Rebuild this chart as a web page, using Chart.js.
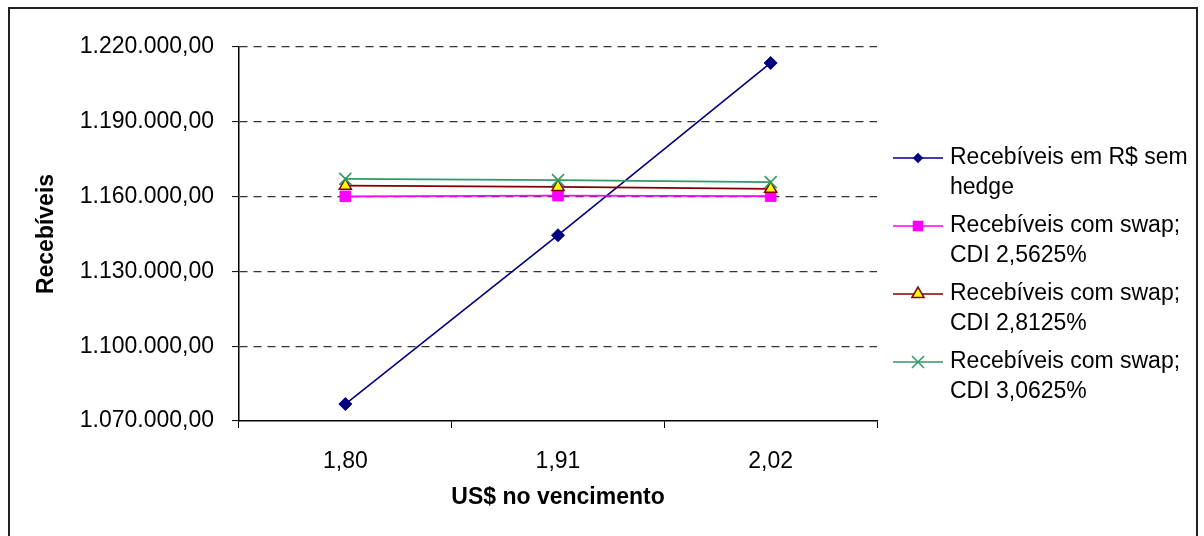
<!DOCTYPE html>
<html>
<head>
<meta charset="utf-8">
<title>Recebíveis x US$ no vencimento</title>
<script src="https://cdn.jsdelivr.net/npm/chart.js@4/dist/chart.umd.min.js"></script>
<style>
  html, body { margin: 0; padding: 0; background: #fff; }
  #wrap { position: relative; width: 1204px; height: 536px; }
</style>
</head>
<body>
<div id="wrap"><canvas id="c" width="1204" height="536"></canvas></div>
<script>
// Exchange rate at maturity (categories)
const categories = ['1,80', '1,91', '2,02'];

// Receivables (R$) for each scenario
const semHedge = [1076800, 1144500, 1213600];
const swapCdi25625 = [1160100, 1160400, 1160200];
const swapCdi28125 = [1164400, 1163900, 1163100];
const swapCdi30625 = [1167100, 1166600, 1165800];

const seriesNames = [
  ['Recebíveis em R$ sem', 'hedge'],
  ['Recebíveis com swap;', 'CDI 2,5625%'],
  ['Recebíveis com swap;', 'CDI 2,8125%'],
  ['Recebíveis com swap;', 'CDI 3,0625%']
];

// Value axis range
const yMin = 1070000;
const yMax = 1220000;
const yStep = 30000;

const FONT = '"Liberation Sans", Arial, sans-serif';

function formatBR(v) {
  const intPart = Math.round(v).toString().replace(/\B(?=(\d{3})+(?!\d))/g, '.');
  return intPart + ',00';
}

const styles = [
  { color: '#000080', fill: '#000080', point: 'rectRot', radius: 6.5 },
  { color: '#FF00FF', fill: '#FF00FF', point: 'rect', radius: 7.5 },
  { color: '#800000', fill: '#FFFF00', point: 'triangle', radius: 7 },
  { color: '#339966', fill: '#339966', point: 'crossRot', radius: 8.5 }
];

const seriesData = [semHedge, swapCdi25625, swapCdi28125, swapCdi30625];

const datasets = seriesData.map((d, i) => ({
  label: seriesNames[i].join(' '),
  data: d,
  borderColor: styles[i].color,
  backgroundColor: styles[i].fill,
  borderWidth: 1.6,
  pointStyle: styles[i].point,
  pointRadius: styles[i].radius,
  pointHoverRadius: styles[i].radius,
  pointBackgroundColor: styles[i].fill,
  pointBorderColor: styles[i].color,
  pointBorderWidth: i === 2 ? 1.5 : (i === 3 ? 1.6 : 1),
  tension: 0,
  fill: false,
  order: 3 - i
}));

// Draws one legend marker in the given style
function drawMarker(ctx, st, x, y) {
  ctx.save();
  ctx.fillStyle = st.fill;
  ctx.strokeStyle = st.color;
  ctx.lineWidth = 1.5;
  const r = st.radius;
  ctx.beginPath();
  if (st.point === 'rectRot') {
    const h = r * 0.8;
    ctx.moveTo(x, y - h); ctx.lineTo(x + h, y); ctx.lineTo(x, y + h); ctx.lineTo(x - h, y);
    ctx.closePath(); ctx.fill();
  } else if (st.point === 'rect') {
    const h = r * Math.SQRT1_2;
    ctx.rect(x - h, y - h, 2 * h, 2 * h); ctx.fill();
  } else if (st.point === 'triangle') {
    ctx.moveTo(x, y - r);
    ctx.lineTo(x + r * 0.866, y + r * 0.5);
    ctx.lineTo(x - r * 0.866, y + r * 0.5);
    ctx.closePath(); ctx.fill(); ctx.stroke();
  } else if (st.point === 'crossRot') {
    const h = r * Math.SQRT1_2;
    ctx.moveTo(x - h, y - h); ctx.lineTo(x + h, y + h);
    ctx.moveTo(x + h, y - h); ctx.lineTo(x - h, y + h);
    ctx.stroke();
  }
  ctx.restore();
}

// Legend on the right, two text lines per series, plus the outer frame
const sideLegend = {
  id: 'sideLegend',
  afterDraw(chart) {
    const ctx = chart.ctx;
    const left = chart.chartArea.right + 16;
    const top = 158;
    const entryGap = 68;
    const lineGap = 30;
    ctx.save();
    ctx.font = '23px ' + FONT;
    ctx.textBaseline = 'middle';
    ctx.textAlign = 'left';
    ctx.fillStyle = '#000';
    seriesNames.forEach((lines, i) => {
      const y = top + i * entryGap;
      const st = styles[i];
      ctx.strokeStyle = st.color;
      ctx.lineWidth = 1.6;
      ctx.beginPath();
      ctx.moveTo(left, y);
      ctx.lineTo(left + 50, y);
      ctx.stroke();
      drawMarker(ctx, st, left + 25, y);
      ctx.fillStyle = '#000';
      lines.forEach((t, k) => ctx.fillText(t, left + 57, y + k * lineGap));
    });
    ctx.strokeStyle = '#222';
    ctx.lineWidth = 2;
    ctx.strokeRect(9, 8, 1188, 540);
    ctx.restore();
  }
};

new Chart(document.getElementById('c'), {
  type: 'line',
  data: { labels: categories, datasets },
  options: {
    responsive: false,
    animation: false,
    events: [],
    layout: { padding: { left: 9, top: 47, right: 327, bottom: 0 } },
    plugins: {
      legend: { display: false },
      tooltip: { enabled: false }
    },
    scales: {
      x: {
        type: 'category',
        offset: true,
        grid: {
          offset: true,
          drawOnChartArea: false,
          drawTicks: true,
          tickLength: 7,
          tickColor: '#000',
          tickWidth: 1
        },
        border: { display: true, color: '#000', width: 1.5 },
        ticks: {
          color: '#000',
          font: { family: FONT, size: 23 },
          padding: 20,
          maxRotation: 0
        },
        title: {
          display: true,
          text: 'US$ no vencimento',
          color: '#000',
          font: { family: FONT, size: 23, weight: 'bold' },
          padding: { top: 0, bottom: 25 }
        },
        afterFit(scale) { scale.height = 536 - 421; }
      },
      y: {
        min: yMin,
        max: yMax,
        ticks: {
          stepSize: yStep,
          color: '#000',
          font: { family: FONT, size: 23 },
          padding: 18,
          callback: (v) => formatBR(v)
        },
        grid: {
          color: (c) => (c.tick && c.tick.value === yMin ? 'rgba(0,0,0,0)' : '#333'),
          lineWidth: 1.2,
          drawTicks: true,
          tickLength: 7,
          tickColor: '#000',
          tickWidth: 1
        },
        border: { display: true, color: '#000', width: 1.5, dash: [8, 6] },
        title: {
          display: true,
          text: 'Recebíveis',
          color: '#000',
          font: { family: FONT, size: 23, weight: 'bold' },
          padding: { top: 24, bottom: 0 }
        },
        afterFit(scale) { scale.width = 239 - 9; }
      }
    }
  },
  plugins: [sideLegend]
});
</script>
</body>
</html>
